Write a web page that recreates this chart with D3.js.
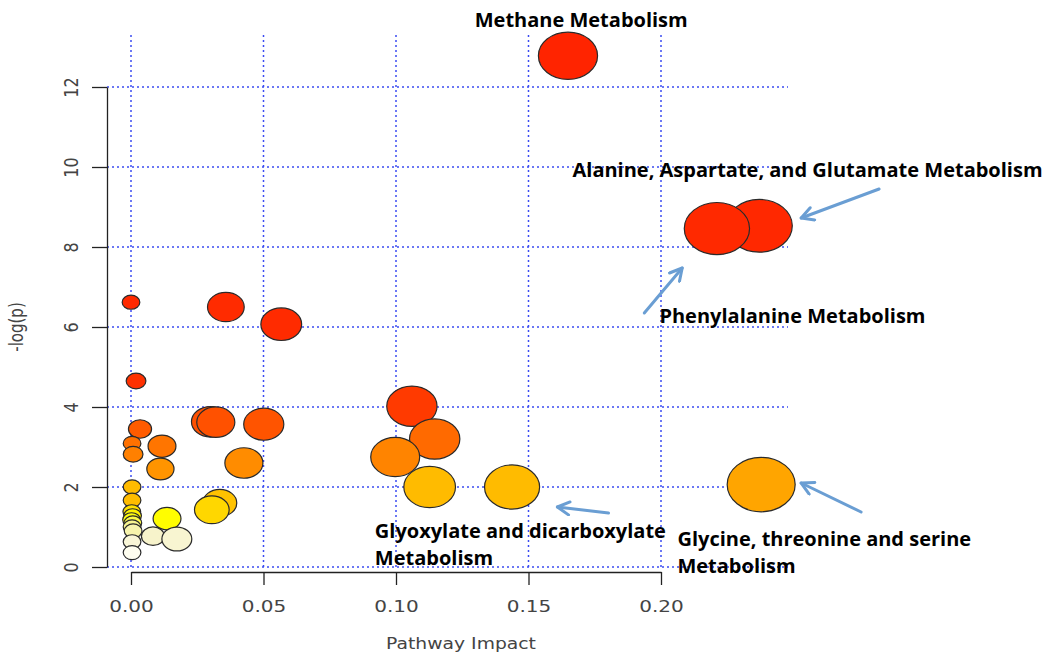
<!DOCTYPE html>
<html><head><meta charset="utf-8">
<script src="https://cdn.jsdelivr.net/npm/d3@7"></script>
<style>body{margin:0;background:#fff}</style>
</head><body><svg id="c" width="1049" height="657"></svg>
<script>
// ---- data ----
const impact = [0.1649, 0.2371, 0.2211, 0.2378, 0.0000, 0.0019, 0.0358, 0.0567,
  0.0300, 0.0320, 0.0501, 0.0426, 0.0034, 0.0004, 0.0008, 0.0117, 0.0111, 0.0004, 0.0004,
  0.0003, 0.0006, 0.0002, 0.0007, 0.0004, 0.0008, 0.0004, 0.0004,
  0.0136, 0.0083, 0.0173, 0.0335, 0.0305, 0.1060, 0.1146, 0.0997, 0.1127, 0.1438];
const negLogP = [12.78, 8.53, 8.46, 2.06, 6.62, 4.65, 6.50, 6.07,
  3.63, 3.62, 3.57, 2.60, 3.45, 3.09, 2.82, 3.02, 2.45, 2.00, 1.67,
  1.38, 1.28, 1.18, 1.10, 1.00, 0.90, 0.63, 0.36,
  1.21, 0.77, 0.70, 1.60, 1.43, 4.02, 3.20, 2.75, 2.00, 2.00];
const bubbleSize = [0.87, 0.97, 0.96, 1.00, 0.26, 0.29, 0.54, 0.60,
  0.56, 0.56, 0.59, 0.56, 0.34, 0.26, 0.29, 0.41, 0.40, 0.26, 0.26,
  0.26, 0.26, 0.26, 0.26, 0.26, 0.26, 0.26, 0.26,
  0.41, 0.34, 0.44, 0.50, 0.51, 0.74, 0.74, 0.72, 0.76, 0.81];
const xTicks = [0, 0.05, 0.10, 0.15, 0.20];
const yTicks = [0, 2, 4, 6, 8, 10, 12];
const xTitle = "Pathway Impact";
const yTitle = "-log(p)";
const labelLines = [["Methane Metabolism"], ["Alanine, Aspartate, and Glutamate Metabolism"],
  ["Phenylalanine Metabolism"], ["Glyoxylate and dicarboxylate", "Metabolism"],
  ["Glycine, threonine and serine", "Metabolism"]];
const labelX = [0.1297, 0.1666, 0.1994, 0.0920, 0.2062];
const labelY = [13.5, 9.75, 6.1, 0.725, 0.525];
const arrowFromX = [0.2823, 0.1937, 0.1802, 0.2755];
const arrowFromY = [9.45, 6.35, 1.35, 1.375];
const arrowToX = [0.2529, 0.2080, 0.1609, 0.2529];
const arrowToY = [8.725, 7.475, 1.50, 2.10];

// ---- layout ----
const svg = d3.select("#c");
const x = d3.scaleLinear().domain([0, 0.2]).range([131, 661]);
const y = d3.scaleLinear().domain([0, 12]).range([567, 87]);
const r = d3.scaleLinear().domain([0, 1]).range([0, 34]);
const color = d3.scaleLinear()
  .domain([0.3, 0.8, 1.0, 1.2, 1.45, 1.65, 2.0, 2.06, 2.5, 3.0, 3.5, 4.0, 5.0, 13])
  .range(['#fffff4', '#f6f2c8', '#f8f590', '#ffff00', '#ffd400', '#ffbc00', '#ffbb00', '#ffa500',
          '#ff9200', '#ff7600', '#ff5800', '#ff3a00', '#ff2c00', '#ff2400']);
const gridColor = "#3b4cf2";
const axisTextColor = "#444";
const stretch = 1.25;

// gridlines
const grid = svg.append("g");
grid.selectAll("line.v").data(xTicks).join("line")
  .attr("x1", d => x(d)).attr("x2", d => x(d))
  .attr("y1", 35).attr("y2", y(0) + 3)
  .attr("stroke", gridColor).attr("stroke-width", 1.5).attr("stroke-dasharray", "2,3");
grid.selectAll("line.h").data(yTicks).join("line")
  .attr("x1", 107).attr("x2", 788)
  .attr("y1", d => y(d)).attr("y2", d => y(d))
  .attr("stroke", gridColor).attr("stroke-width", 1.5).attr("stroke-dasharray", "2,3");

// axes
const yAxis = svg.append("g").attr("transform", "translate(107,0)")
  .call(d3.axisLeft(y).tickValues(yTicks).tickFormat(d3.format("d")).tickSize(15).tickSizeOuter(0));
yAxis.select(".domain").attr("stroke", "#222").attr("stroke-width", 1.3);
yAxis.selectAll(".tick line").attr("stroke", "#222").attr("stroke-width", 1.3);
yAxis.selectAll(".tick text")
  .attr("x", null).attr("dy", null).attr("y", null)
  .attr("transform", `translate(-36,0) rotate(-90) scale(1,${stretch})`)
  .attr("text-anchor", "middle").attr("dominant-baseline", "central")
  .attr("font-family", "DejaVu Sans").attr("font-size", 16).attr("fill", axisTextColor);

const xAxis = svg.append("g").attr("transform", "translate(0,572)")
  .call(d3.axisBottom(x).tickValues(xTicks).tickFormat(d3.format(".2f")).tickSize(13).tickSizeOuter(0));
xAxis.select(".domain").attr("stroke", "#222").attr("stroke-width", 1.3);
xAxis.selectAll(".tick line").attr("stroke", "#222").attr("stroke-width", 1.3);
xAxis.selectAll(".tick text")
  .attr("y", null).attr("dy", null)
  .attr("transform", `translate(0,34) scale(${stretch},1)`)
  .attr("text-anchor", "middle").attr("dominant-baseline", "central")
  .attr("font-family", "DejaVu Sans").attr("font-size", 16).attr("fill", axisTextColor);

svg.append("text").text(xTitle)
  .attr("transform", `translate(461,644) scale(${stretch},1)`)
  .attr("text-anchor", "middle").attr("dominant-baseline", "central")
  .attr("font-family", "DejaVu Sans").attr("font-size", 15).attr("fill", axisTextColor);
svg.append("text").text(yTitle)
  .attr("transform", `translate(16,327) rotate(-90) scale(1,${stretch})`)
  .attr("text-anchor", "middle").attr("dominant-baseline", "central")
  .attr("font-family", "DejaVu Sans").attr("font-size", 15).attr("fill", axisTextColor);

// bubbles (drawn from most to least significant)
const pts = impact.map((v, i) => ({ x: v, y: negLogP[i], s: bubbleSize[i] }))
  .sort((a, b) => b.y - a.y);
svg.append("g").selectAll("ellipse").data(pts).join("ellipse")
  .attr("cx", d => x(d.x)).attr("cy", d => y(d.y))
  .attr("rx", d => r(d.s)).attr("ry", d => r(d.s) / stretch)
  .attr("fill", d => color(d.y))
  .attr("stroke", "#2a2a2a").attr("stroke-width", 1.2);

// arrows
const arrowColor = "#6a9ed3";
svg.append("defs").append("marker").attr("id", "ah")
  .attr("viewBox", "0 0 16 16").attr("refX", 14).attr("refY", 8)
  .attr("markerWidth", 16).attr("markerHeight", 16)
  .attr("markerUnits", "userSpaceOnUse").attr("orient", "auto")
  .append("path").attr("d", "M2,1.5 L14,8 L2,14.5")
  .attr("fill", "none").attr("stroke", arrowColor).attr("stroke-width", 3)
  .attr("stroke-linecap", "round").attr("stroke-linejoin", "round");
svg.append("g").selectAll("line").data(arrowFromX).join("line")
  .attr("x1", (d, i) => x(d)).attr("y1", (d, i) => y(arrowFromY[i]))
  .attr("x2", (d, i) => x(arrowToX[i])).attr("y2", (d, i) => y(arrowToY[i]))
  .attr("stroke", arrowColor).attr("stroke-width", 3).attr("stroke-linecap", "round")
  .attr("marker-end", "url(#ah)");

// annotation labels
const lab = svg.append("g").selectAll("text").data(labelLines).join("text")
  .attr("x", (d, i) => x(labelX[i])).attr("y", (d, i) => y(labelY[i]))
  .attr("font-family", "Open Sans").attr("font-weight", 700).attr("font-size", 20)
  .attr("fill", "#000");
lab.selectAll("tspan").data(d => d).join("tspan")
  .attr("x", function () { return this.parentNode.getAttribute("x"); })
  .attr("dy", (d, j) => j === 0 ? 0 : 27)
  .text(d => d);
</script>
</body></html>
